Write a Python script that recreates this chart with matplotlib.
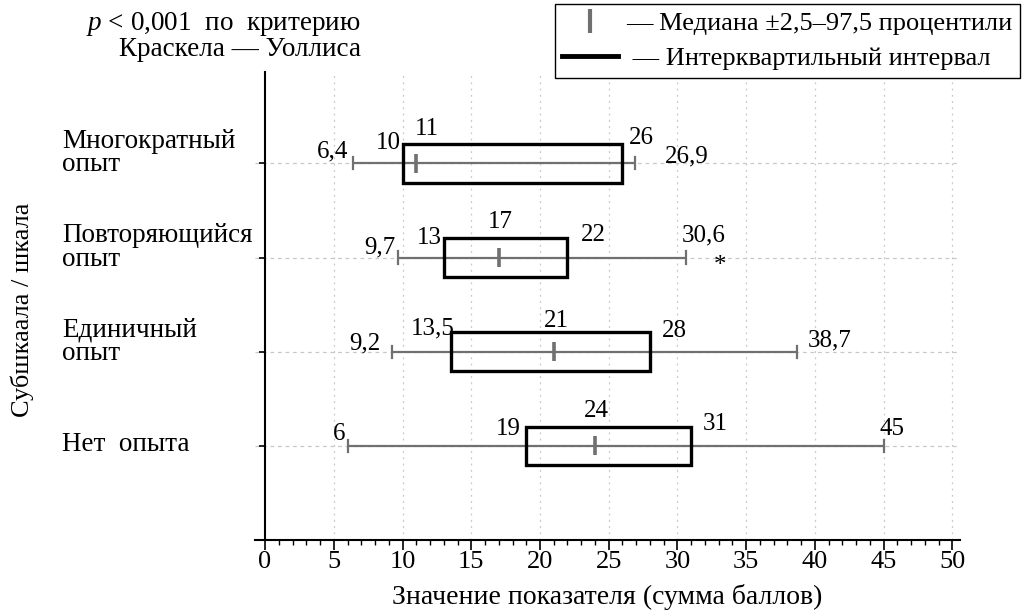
import matplotlib
matplotlib.use("Agg")
import matplotlib.pyplot as plt
from matplotlib.lines import Line2D
from matplotlib.patches import Rectangle
import matplotlib.transforms as mtrans

plt.rcParams['font.family'] = ['Liberation Serif', 'DejaVu Serif']
plt.rcParams['mathtext.fontset'] = 'custom'
plt.rcParams['mathtext.rm'] = 'Liberation Serif'
plt.rcParams['mathtext.it'] = 'Liberation Serif:italic'

# ---- data ----
categories = ["Нет  опыта", "Единичный\nопыт", "Повторяющийся\nопыт", "Многократный\nопыт"]
p2_5 = [6, 9.2, 9.7, 6.4]
q1 = [19, 13.5, 13, 10]
median = [24, 21, 17, 11]
q3 = [31, 28, 22, 26]
p97_5 = [45, 38.7, 30.6, 26.9]
outlier_mark = [False, False, True, False]
x_ticks = [0, 5, 10, 15, 20, 25, 30, 35, 40, 45, 50]

title_text = "$p$ < 0,001  по  критерию\nКраскела — Уоллиса"
xlabel = "Значение показателя (сумма баллов)"
ylabel = "Субшкаала / шкала"
legend_labels = ["— Медиана ±2,5–97,5 процентили", " — Интерквартильный интервал"]

# label offsets in pixels (dx, dy) per row: lo, q1, med, q3, hi
offs = [
    [(-2, 12), (-6, 17), (1, 35), (12, 22), (-4, 17)],
    [(-11, 8), (4, 23), (3, 31), (12, 21), (11, 11)],
    [(-3, 10), (-2, 20), (2, 36), (13, 23), (-4, 22)],
    [(-5, 12), (-2, 20), (11, 34), (6, 25), (30, 7)],
]

def fmt(v):
    s = ("%g" % v)
    return s.replace('.', ',')

W, H = 1022, 611
fig = plt.figure(figsize=(W / 100, H / 100), dpi=100)
ax = fig.add_axes([255 / W, 1 - 540 / H, 705 / W, 468 / H])

FS_ANN = 18
FS_LAB = 19.5
gray = '#707070'
ax.set_xlim(-0.73, 50.55)
ax.set_ylim(-1.0, 3.97)

for xv in x_ticks[1:]:
    ax.axvline(xv, color='#c8c8c8', lw=0.9, ls=(0, (1.5, 3.5)), zorder=0)
for i in range(len(categories)):
    ax.axhline(i, color='#c8c8c8', lw=0.9, ls=(0, (3, 3)), zorder=0)

bh = 0.41
for i in range(len(categories)):
    ax.plot([p2_5[i], p97_5[i]], [i, i], color=gray, lw=1.6, zorder=2,
            solid_capstyle='butt')
    for xv in (p2_5[i], p97_5[i]):
        ax.plot([xv, xv], [i - 0.065, i + 0.065], color=gray, lw=1.6, zorder=2)
    ax.plot([median[i], median[i]], [i - 0.1, i + 0.1], color=gray, lw=2.6, zorder=3,
            solid_capstyle='butt')
    ax.add_patch(Rectangle((q1[i], i - bh / 2), q3[i] - q1[i], bh, fill=False,
                           edgecolor='black', lw=2.4, zorder=4))
    vals = [p2_5[i], q1[i], median[i], q3[i], p97_5[i]]
    has = ['right', 'right', 'center', 'left', 'left']
    for v, ha, (dx, dy) in zip(vals, has, offs[i]):
        ax.annotate(fmt(v), (v, i), xytext=(dx, dy), textcoords='offset pixels',
                    ha=ha, va='center', fontsize=FS_ANN, zorder=5)
    if outlier_mark[i]:
        ax.annotate("*", (p97_5[i], i), xytext=(34, -8), textcoords='offset pixels',
                    ha='center', va='center', fontsize=FS_ANN, zorder=5)

ax.spines['top'].set_visible(False)
ax.spines['right'].set_visible(False)
ax.spines['left'].set_position(('data', 0))
ax.spines['left'].set_linewidth(1.5)
ax.spines['bottom'].set_linewidth(1.5)

ax.set_xticks(x_ticks)
ax.set_xticklabels([str(t) for t in x_ticks], fontsize=19)
ax.set_xticks(range(0, 51), minor=True)
ax.tick_params(axis='x', which='major', direction='out', length=7, width=1.2, pad=1)
ax.tick_params(axis='x', which='minor', direction='out', length=3.5, width=1.0)
ax.set_yticks(range(len(categories)))
ax.set_yticklabels([])
ax.tick_params(axis='y', direction='out', length=4, width=1.2)

tr = mtrans.blended_transform_factory(fig.transFigure, ax.transData)
for i, c in enumerate(categories):
    dy = 10 if '\n' in c else 1
    t = mtrans.offset_copy(tr, fig=fig, x=0, y=dy, units='dots')
    ax.text(62 / W, i, c, transform=t, ha='left', va='center', fontsize=FS_LAB,
            linespacing=0.9)

ax.set_xlabel(xlabel, fontsize=20, labelpad=8)
fig.text(22 / W, 1 - 310 / H, ylabel, rotation=90, ha='center', va='center', fontsize=19)
fig.text(361 / W, 1 - 36 / H, title_text, ha='right', va='center', fontsize=FS_LAB,
         linespacing=1.0, multialignment='right')

handles = [Line2D([], [], color=gray, marker='|', markersize=17, mew=3, ls='None'),
           Line2D([], [], color='black', lw=3.5)]
leg = fig.legend(handles, legend_labels, loc='upper right',
                 bbox_to_anchor=(1020 / W, 1 - 4 / H), fontsize=19, frameon=True,
                 fancybox=False, edgecolor='black', framealpha=1, handlelength=2.1,
                 handletextpad=0.3, labelspacing=0.42, borderpad=0.3,
                 borderaxespad=0)
leg.get_frame().set_linewidth(1.0)

fig.savefig("out.png", dpi=100)
